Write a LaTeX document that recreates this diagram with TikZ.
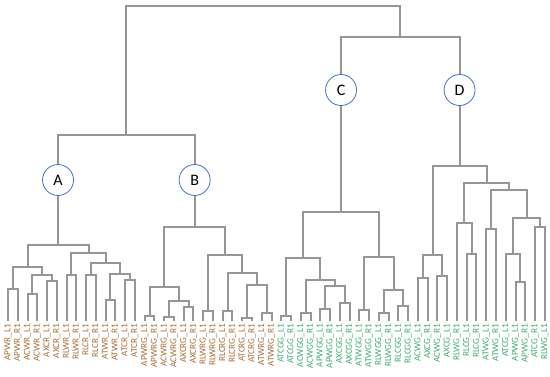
\documentclass[tikz,border=0pt]{standalone}
\usepackage{fontspec}
\setmainfont{Carlito}
\usetikzlibrary{calc}
\definecolor{treegray}{RGB}{150,150,150}
\definecolor{clusterblue}{RGB}{68,114,196}
\definecolor{brownlab}{RGB}{168,108,56}
\definecolor{greenlab}{RGB}{60,172,110}
\tikzset{
    treeline/.style={draw=treegray, line width=2pt},
    leaflabel/.style={rotate=90, anchor=east, inner sep=0pt,
        font=\fontsize{9.2}{10}\selectfont},
    clusternode/.style={circle, draw=clusterblue, fill=white, line width=0.8pt,
        minimum size=31pt, inner sep=0pt, font=\fontsize{16}{18}\selectfont}
}
% join two branches at height #4
\newcommand{\dmerge}[4]{%
  \coordinate (#1) at ($(#2 |- 0,#4)!0.5!(#3 |- 0,#4)$);
  \draw[treeline] (#2) |- (#1) -| (#3);
}

\begin{document}
\begin{tikzpicture}[x=1pt, y=-1pt]
\useasboundingbox (0,0) rectangle (550,376);
% leaves
\foreach \lab [count=\i from 0] in {APWR\_L1,APWR\_R1,ACWR\_L1,ACWR\_R1,AXCR\_L1,AXCR\_R1,RLWR\_L1,RLWR\_R1,RLCR\_L1,RLCR\_R1,ATWR\_L1,ATWR\_R1,ATCR\_L1,ATCR\_R1,APWRG\_L1,APWRG\_R1,ACWRG\_L1,ACWRG\_R1,AXCRG\_L1,AXCRG\_R1,RLWRG\_L1,RLWRG\_R1,RLCRG\_L1,RLCRG\_R1,ATCRG\_L1,ATCRG\_R1,ATWRG\_L1,ATWRG\_R1} {
  \node[leaflabel, text=brownlab] (lab\i) at ({8+9.76*\i},324) {\lab};
  \coordinate (l\i) at ({8+9.76*\i},321);
}
\foreach \lab [count=\i from 28] in {ATCGG\_L1,ATCGG\_R1,ACWGG\_L1,ACWGG\_R1,APWGG\_L1,APWGG\_R1,AXCGG\_L1,AXCGG\_R1,ATWGG\_L1,ATWGG\_R1,RLWGG\_L1,RLWGG\_R1,RLCGG\_L1,RLCGG\_R1,ACWG\_L1,AXCG\_R1,ACWG\_R1,AXCG\_L1,RLWG\_R1,RLCG\_L1,RLCG\_R1,ATWG\_L1,ATWG\_R1,ATCG\_L1,APWG\_L1,APWG\_R1,ATCG\_R1,RLWG\_L1} {
  \node[leaflabel, text=greenlab] (lab\i) at ({8+9.76*\i},324) {\lab};
  \coordinate (l\i) at ({8+9.76*\i},321);
}
% cluster A
\dmerge{a1}{l0}{l1}{289}
\dmerge{a2}{l2}{l3}{294}
\dmerge{a3}{l4}{l5}{281}
\dmerge{a4}{a2}{a3}{275}
\dmerge{a5}{a1}{a4}{267}
\dmerge{a6}{l6}{l7}{275}
\dmerge{a7}{l8}{l9}{275}
\dmerge{a8}{l10}{l11}{300}
\dmerge{a9}{l12}{l13}{280}
\dmerge{a10}{a8}{a9}{274}
\dmerge{a11}{a7}{a10}{263}
\dmerge{a12}{a6}{a11}{253}
\dmerge{aA}{a5}{a12}{245}
% cluster B
\dmerge{b1}{l14}{l15}{316}
\dmerge{b2}{l16}{l17}{317}
\dmerge{b3}{l18}{l19}{307}
\dmerge{b4}{b2}{b3}{301}
\dmerge{b5}{b1}{b4}{287}
\dmerge{b6}{l20}{l21}{311}
\dmerge{b7}{l22}{l23}{311}
\dmerge{b8}{l24}{l25}{318}
\dmerge{b9}{l26}{l27}{313}
\dmerge{b10}{b8}{b9}{285}
\dmerge{b11}{b7}{b10}{273}
\dmerge{b12}{b6}{b11}{255}
\dmerge{bB}{b5}{b12}{227}
% cluster C
\dmerge{c1}{l28}{l29}{316}
\dmerge{c2}{l30}{l31}{313}
\dmerge{c3}{l32}{l33}{309}
\dmerge{c4}{l34}{l35}{303}
\dmerge{c5}{c3}{c4}{286}
\dmerge{c6}{c2}{c5}{280}
\dmerge{c7}{c1}{c6}{258}
\dmerge{c8}{l36}{l37}{310}
\dmerge{c9}{l38}{l39}{313}
\dmerge{c10}{l40}{l41}{306}
\dmerge{c11}{c9}{c10}{290}
\dmerge{c12}{c8}{c11}{257}
\dmerge{cC}{c7}{c12}{212}
% cluster D
\dmerge{d1}{l42}{l43}{278}
\dmerge{d2}{l44}{l45}{276}
\dmerge{d3}{d1}{d2}{255}
\dmerge{d4}{l47}{l48}{254}
\dmerge{d5}{l46}{d4}{223}
\dmerge{d6}{l49}{l50}{229}
\dmerge{d7}{l52}{l53}{282}
\dmerge{d8}{l51}{d7}{254}
\dmerge{d9}{l54}{l55}{227}
\dmerge{d10}{d8}{d9}{218}
\dmerge{d11}{d6}{d10}{190}
\dmerge{d12}{d5}{d11}{183}
\dmerge{dD}{d3}{d12}{166}
% upper levels
\dmerge{ab}{aA}{bB}{135}
\dmerge{cd}{cC}{dD}{37}
\dmerge{root}{ab}{cd}{6}
% cluster marks
\node[clusternode] (A) at (aA |- 0,180) {A};
\node[clusternode] (B) at (bB |- 0,180) {B};
\node[clusternode] (C) at (cC |- 0,90) {C};
\node[clusternode] (D) at (dD |- 0,90) {D};
\end{tikzpicture}
\end{document}
